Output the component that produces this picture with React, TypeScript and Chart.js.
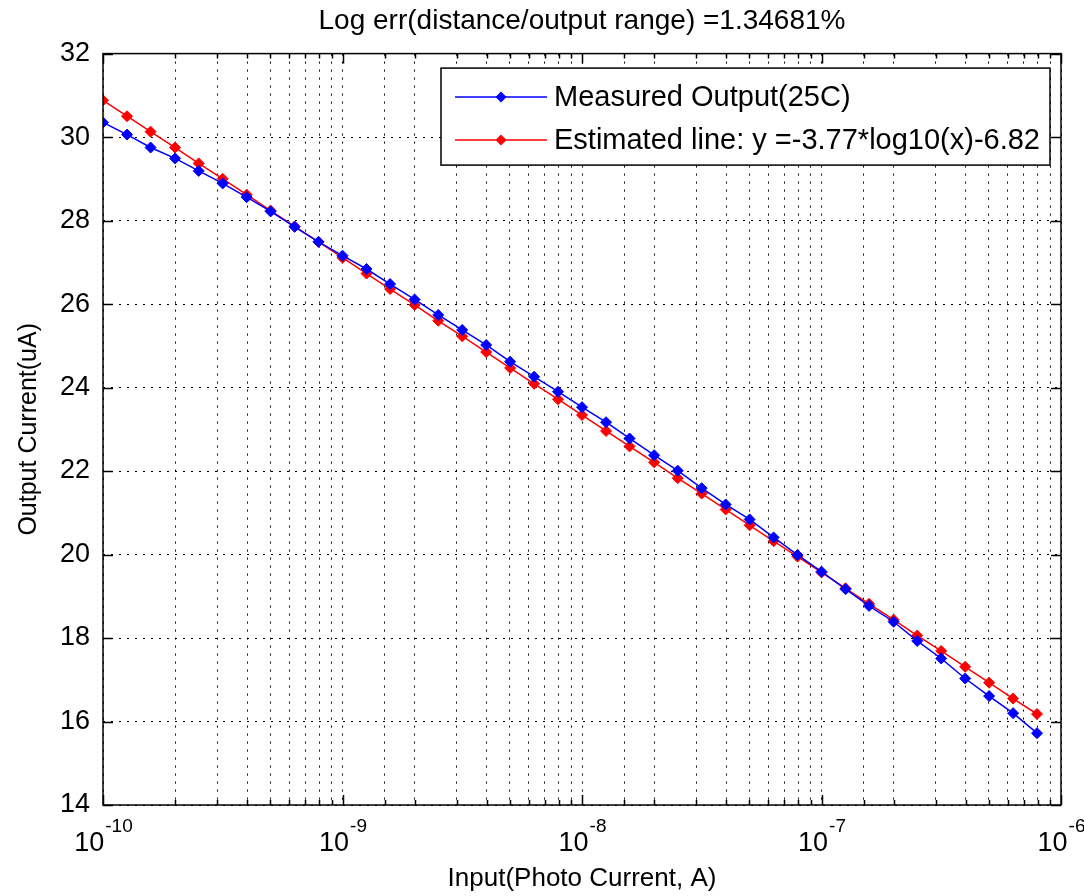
import React, { useEffect, useRef } from 'react';
import { Chart, registerables } from 'chart.js';

Chart.register(...registerables);

const FONT = "'Liberation Sans', Arial, Helvetica, sans-serif";

const chartTitle = 'Log err(distance/output range) =1.34681%';
const xAxisTitle = 'Input(Photo Current, A)';
const yAxisTitle = 'Output Current(uA)';
const measuredLabel = 'Measured Output(25C)';
const estimatedLabel = 'Estimated line: y =-3.77*log10(x)-6.82';

const inputCurrent = [
  1.0e-10, 1.26e-10, 1.58e-10, 2.0e-10, 2.51e-10, 3.16e-10, 3.98e-10, 5.01e-10, 6.31e-10, 7.94e-10,
  1.0e-9, 1.26e-9, 1.58e-9, 2.0e-9, 2.51e-9, 3.16e-9, 3.98e-9, 5.01e-9, 6.31e-9, 7.94e-9,
  1.0e-8, 1.26e-8, 1.58e-8, 2.0e-8, 2.51e-8, 3.16e-8, 3.98e-8, 5.01e-8, 6.31e-8, 7.94e-8,
  1.0e-7, 1.26e-7, 1.58e-7, 2.0e-7, 2.51e-7, 3.16e-7, 3.98e-7, 5.01e-7, 6.31e-7, 7.94e-7,
];

const measuredOutput = [
  30.35, 30.06, 29.75, 29.49, 29.19, 28.89, 28.56, 28.22, 27.85, 27.49,
  27.16, 26.84, 26.48, 26.11, 25.74, 25.38, 25.02, 24.62, 24.26, 23.9,
  23.53, 23.17, 22.78, 22.38, 22.01, 21.59, 21.2, 20.84, 20.41, 19.99,
  19.59, 19.17, 18.77, 18.39, 17.93, 17.51, 17.03, 16.61, 16.2, 15.72,
];

const estimatedLine = [
  30.88, 30.5, 30.13, 29.75, 29.37, 29.0, 28.62, 28.24, 27.86, 27.49,
  27.11, 26.73, 26.36, 25.98, 25.6, 25.23, 24.85, 24.47, 24.09, 23.72,
  23.34, 22.96, 22.59, 22.21, 21.83, 21.46, 21.08, 20.7, 20.32, 19.95,
  19.57, 19.19, 18.82, 18.44, 18.06, 17.69, 17.31, 16.93, 16.55, 16.18,
];

const xMin = 1e-10;
const xMax = 1e-6;
const yMin = 14;
const yMax = 32;
const yStep = 2;
const xDecadeBase = '10';

function decadeExponent(v: number): string | null {
  const e = Math.log10(v);
  if (Math.abs(e - Math.round(e)) > 1e-6) return null;
  return String(Math.round(e));
}

const framePlugin = {
  id: 'matlabFrame',
  afterDatasetsDraw(chart: any) {
    const { ctx, chartArea: a, scales } = chart;
    ctx.save();
    ctx.strokeStyle = '#000';
    ctx.lineWidth = 1.5;
    ctx.setLineDash([]);
    // inward x ticks (bottom and top)
    scales.x.ticks.forEach((t: any) => {
      const px = Math.round(scales.x.getPixelForValue(t.value)) + 0.5;
      const major = decadeExponent(t.value) !== null;
      const len = major ? 10 : 5;
      ctx.beginPath();
      ctx.moveTo(px, a.bottom);
      ctx.lineTo(px, a.bottom - len);
      ctx.moveTo(px, a.top);
      ctx.lineTo(px, a.top + len);
      ctx.stroke();
    });
    // inward y ticks (left and right)
    scales.y.ticks.forEach((t: any) => {
      const py = Math.round(scales.y.getPixelForValue(t.value)) + 0.5;
      ctx.beginPath();
      ctx.moveTo(a.left, py);
      ctx.lineTo(a.left + 10, py);
      ctx.moveTo(a.right, py);
      ctx.lineTo(a.right - 10, py);
      ctx.stroke();
    });
    ctx.strokeRect(a.left, a.top, a.right - a.left, a.bottom - a.top);

    // x decade labels with superscript exponents
    ctx.fillStyle = '#000';
    ctx.textBaseline = 'alphabetic';
    ctx.textAlign = 'left';
    scales.x.ticks.forEach((t: any) => {
      const exp = decadeExponent(t.value);
      if (exp === null) return;
      const px = scales.x.getPixelForValue(t.value);
      ctx.font = `27px ${FONT}`;
      const wb = ctx.measureText(xDecadeBase).width;
      ctx.font = `19px ${FONT}`;
      const we = ctx.measureText(exp).width;
      const x0 = px - (wb + we) / 2;
      ctx.font = `27px ${FONT}`;
      ctx.fillText(xDecadeBase, x0, a.bottom + 46);
      ctx.font = `19px ${FONT}`;
      ctx.fillText(exp, x0 + wb + 1, a.bottom + 27);
    });
    ctx.restore();
  },
  afterDraw(chart: any) {
    const { ctx, chartArea: a } = chart;
    const ds = chart.data.datasets;
    ctx.save();
    ctx.font = `29px ${FONT}`;
    const maxW = Math.max(...ds.map((d: any) => ctx.measureText(d.label).width));
    const right = a.right - 11;
    const top = a.top + 14.5;
    const textX = right - 10 - maxW;
    const left = textX - 113;
    const height = 97;
    ctx.fillStyle = '#fff';
    ctx.fillRect(left, top, right - left, height);
    ctx.strokeStyle = '#000';
    ctx.lineWidth = 1.5;
    ctx.strokeRect(left, top, right - left, height);
    ds.forEach((d: any, i: number) => {
      const cy = top + 29 + i * 43;
      ctx.strokeStyle = d.borderColor;
      ctx.lineWidth = 1.5;
      ctx.beginPath();
      ctx.moveTo(left + 14, cy);
      ctx.lineTo(left + 106, cy);
      ctx.stroke();
      const mx = left + 60;
      const r = 5.5;
      ctx.fillStyle = d.backgroundColor;
      ctx.beginPath();
      ctx.moveTo(mx, cy - r);
      ctx.lineTo(mx + r, cy);
      ctx.lineTo(mx, cy + r);
      ctx.lineTo(mx - r, cy);
      ctx.closePath();
      ctx.fill();
      ctx.fillStyle = '#000';
      ctx.textBaseline = 'middle';
      ctx.textAlign = 'left';
      ctx.fillText(d.label, textX, cy + 1);
    });
    ctx.restore();
  },
};

export default function App() {
  const canvasRef = useRef<HTMLCanvasElement | null>(null);

  useEffect(() => {
    if (!canvasRef.current) return;
    const chart = new Chart(canvasRef.current, {
      type: 'line',
      data: {
        datasets: [
          {
            label: measuredLabel,
            data: inputCurrent.map((x, i) => ({ x, y: measuredOutput[i] })),
            borderColor: '#0000ff',
            backgroundColor: '#0000ff',
            borderWidth: 1.5,
            pointStyle: 'rectRot',
            pointRadius: 5.5,
            pointBorderWidth: 1,
            tension: 0,
          },
          {
            label: estimatedLabel,
            data: inputCurrent.map((x, i) => ({ x, y: estimatedLine[i] })),
            borderColor: '#ff0000',
            backgroundColor: '#ff0000',
            borderWidth: 1.5,
            pointStyle: 'rectRot',
            pointRadius: 5.5,
            pointBorderWidth: 1,
            tension: 0,
          },
        ],
      },
      options: {
        animation: false,
        responsive: true,
        maintainAspectRatio: false,
        layout: { padding: { left: 0, right: 23, top: 0, bottom: 0 } },
        plugins: {
          legend: { display: false },
          tooltip: { enabled: false },
          title: {
            display: true,
            fullSize: false,
            text: chartTitle,
            color: '#000',
            font: { family: FONT, size: 28, weight: 'normal' },
            padding: { top: 4, bottom: 16 },
          },
        },
        scales: {
          x: {
            type: 'logarithmic',
            min: xMin,
            max: xMax,
            afterFit(scale: any) {
              scale.height = 91;
            },
            grid: { color: '#000', lineWidth: 1, drawTicks: false },
            border: { display: false, dash: [2, 6] },
            ticks: {
              autoSkip: false,
              maxRotation: 0,
              color: '#000',
              padding: 10,
              font: { family: FONT, size: 27 },
              callback: () => '',
            },
            title: {
              display: true,
              text: xAxisTitle,
              color: '#000',
              font: { family: FONT, size: 26 },
              padding: { top: 0, bottom: 2 },
            },
          },
          y: {
            type: 'linear',
            min: yMin,
            max: yMax,
            afterFit(scale: any) {
              scale.width = 103;
            },
            grid: { color: '#000', lineWidth: 1, drawTicks: false },
            border: { display: false, dash: [2, 6] },
            ticks: {
              stepSize: yStep,
              color: '#000',
              padding: 13,
              font: { family: FONT, size: 27 },
            },
            title: {
              display: true,
              text: yAxisTitle,
              color: '#000',
              font: { family: FONT, size: 25 },
              padding: { top: 14, bottom: 0 },
            },
          },
        },
      },
      plugins: [framePlugin],
    } as any);
    return () => chart.destroy();
  }, []);

  return (
    <div style={{ position: 'fixed', left: 0, top: 0, width: 1084, height: 896, background: '#fff' }}>
      <canvas ref={canvasRef} />
    </div>
  );
}
